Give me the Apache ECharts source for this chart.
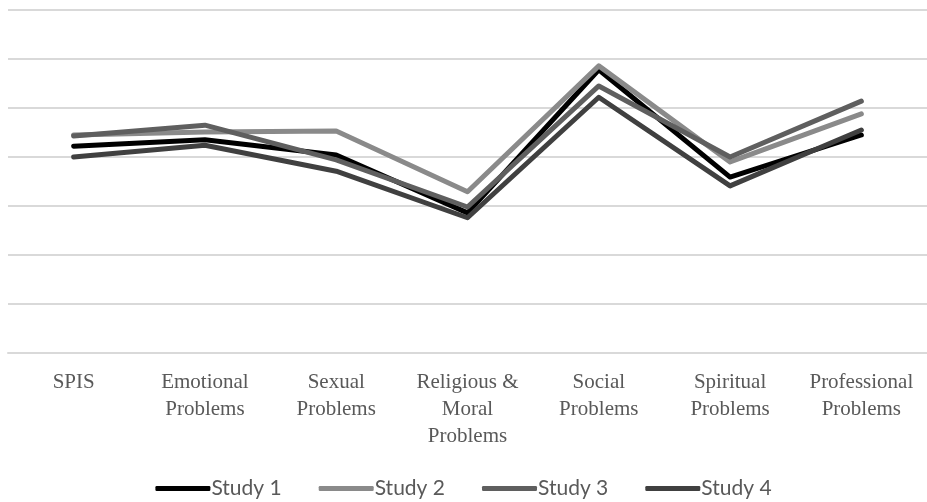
<!DOCTYPE html>
<html>

<head>
  <meta charset="utf-8">
  <title>Studies chart</title>
  <script src="https://cdn.jsdelivr.net/npm/echarts@6.0.0/dist/echarts.min.js"></script>
</head>

<body style="margin:0; background:#fff;">
  <div id="main" style="width:927px; height:502px;"></div>
  <script type="text/javascript">
    // categories and values (no y labels shown, scale 0..7)
    const categories = ['SPIS', 'Emotional\nProblems', 'Sexual\nProblems', 'Religious &\nMoral\nProblems',
      'Social\nProblems', 'Spiritual\nProblems', 'Professional\nProblems'];
    const study1 = [4.22, 4.35, 4.04, 2.86, 5.78, 3.59, 4.45];
    const study2 = [4.45, 4.51, 4.53, 3.29, 5.86, 3.90, 4.88];
    const study3 = [4.43, 4.65, 3.94, 2.98, 5.45, 4.00, 5.14];
    const study4 = [4.00, 4.24, 3.71, 2.76, 5.22, 3.41, 4.55];
    const seriesNames = ['Study 1', 'Study 2', 'Study 3', 'Study 4'];
    const colors = ['#000000', '#8a8a8a', '#5f5f5f', '#404040'];

    const chart = echarts.init(document.getElementById('main'));

    const lineSeries = (name, data, color) => ({
      name,
      type: 'line',
      data,
      symbol: 'none',
      color,
      lineStyle: { width: 5, color, cap: 'round', join: 'round' }
    });

    chart.setOption({
      animation: false,
      grid: { left: 8, right: 0, top: 10, bottom: 149 },
      legend: {
        bottom: 0,
        left: 'center',
        icon: 'roundRect',
        itemWidth: 55,
        itemHeight: 5,
        itemGap: 37,
        padding: [5, 5, 3, 5],
        textStyle: { fontFamily: 'Lato', fontSize: 21, color: '#595959', padding: [0, 0, 0, -4] },
        data: seriesNames
      },
      xAxis: {
        type: 'category',
        data: categories,
        axisLine: { lineStyle: { color: '#d9d9d9', width: 2 } },
        axisTick: { show: false },
        axisLabel: {
          interval: 0,
          margin: 16,
          fontFamily: 'Liberation Serif',
          fontSize: 21,
          lineHeight: 27,
          color: '#595959'
        }
      },
      yAxis: {
        type: 'value',
        min: 0,
        max: 7,
        interval: 1,
        axisLabel: { show: false },
        axisLine: { show: false },
        axisTick: { show: false },
        splitLine: { lineStyle: { color: '#d9d9d9', width: 2 } }
      },
      series: [
        lineSeries(seriesNames[0], study1, colors[0]),
        lineSeries(seriesNames[1], study2, colors[1]),
        lineSeries(seriesNames[2], study3, colors[2]),
        lineSeries(seriesNames[3], study4, colors[3])
      ]
    });
  </script>
</body>

</html>
